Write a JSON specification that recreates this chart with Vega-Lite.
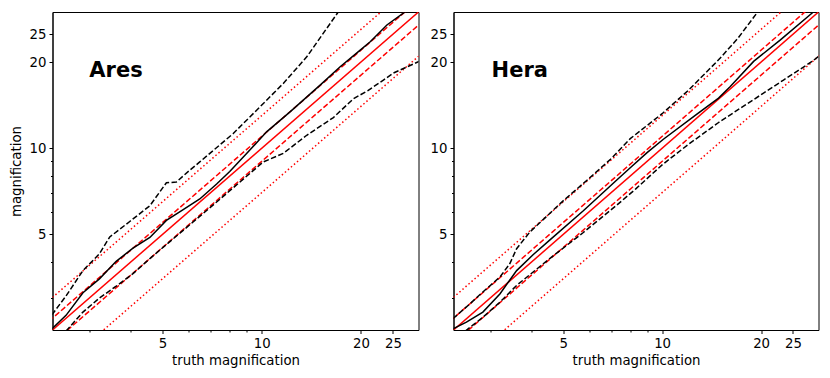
{
"$schema":"https://vega.github.io/schema/vega-lite/v6.json",
"background":"white",
"padding":{"left":8.5,"top":11,"right":5,"bottom":5},
"spacing":10,
"config":{
 "font":"DejaVu Sans",
 "view":{"stroke":"black","strokeWidth":1},
 "axis":{"grid":false,"domainColor":"black","domainWidth":1,"tickColor":"black","tickWidth":1,"tickSize":3.5,"labelColor":"black","labelFont":"DejaVu Sans","labelFontSize":13.3,"labelPadding":3,"titleColor":"black","titleFont":"DejaVu Sans","titleFontSize":13.3,"titleFontWeight":"normal","labelOverlap":false,"labelFlush":false}
},
"datasets":{
"d":[
{"p":"Ares","s":"one","x":2,"y":2},{"p":"Ares","s":"one","x":40,"y":40},
{"p":"Ares","s":"p10","x":2,"y":2.2},{"p":"Ares","s":"p10","x":40,"y":44},
{"p":"Ares","s":"m10","x":2,"y":1.8},{"p":"Ares","s":"m10","x":40,"y":36},
{"p":"Ares","s":"p30","x":2,"y":2.6},{"p":"Ares","s":"p30","x":40,"y":52},
{"p":"Ares","s":"m30","x":2,"y":1.4},{"p":"Ares","s":"m30","x":40,"y":28},
{"p":"Hera","s":"one","x":2,"y":2},{"p":"Hera","s":"one","x":40,"y":40},
{"p":"Hera","s":"p10","x":2,"y":2.2},{"p":"Hera","s":"p10","x":40,"y":44},
{"p":"Hera","s":"m10","x":2,"y":1.8},{"p":"Hera","s":"m10","x":40,"y":36},
{"p":"Hera","s":"p30","x":2,"y":2.6},{"p":"Hera","s":"p30","x":40,"y":52},
{"p":"Hera","s":"m30","x":2,"y":1.4},{"p":"Hera","s":"m30","x":40,"y":28},
{"p":"Ares","s":"med","x":2.31,"y":2.34},{"p":"Ares","s":"med","x":2.55,"y":2.61},{"p":"Ares","s":"med","x":2.87,"y":3.13},{"p":"Ares","s":"med","x":3.22,"y":3.50},{"p":"Ares","s":"med","x":3.62,"y":4.03},{"p":"Ares","s":"med","x":4.07,"y":4.48},{"p":"Ares","s":"med","x":4.58,"y":4.88},{"p":"Ares","s":"med","x":5.14,"y":5.60},{"p":"Ares","s":"med","x":5.78,"y":6.10},{"p":"Ares","s":"med","x":6.49,"y":6.65},{"p":"Ares","s":"med","x":7.30,"y":7.50},{"p":"Ares","s":"med","x":8.0,"y":8.30},{"p":"Ares","s":"med","x":9.0,"y":9.58},{"p":"Ares","s":"med","x":10.35,"y":11.41},{"p":"Ares","s":"med","x":12.19,"y":13.40},{"p":"Ares","s":"med","x":15.04,"y":16.61},{"p":"Ares","s":"med","x":17.30,"y":19.25},{"p":"Ares","s":"med","x":19.90,"y":22.02},{"p":"Ares","s":"med","x":21.34,"y":23.54},{"p":"Ares","s":"med","x":23.98,"y":26.93},{"p":"Ares","s":"med","x":27.27,"y":29.97},{"p":"Ares","s":"med","x":30.5,"y":33.5},
{"p":"Ares","s":"up","x":2.31,"y":2.62},{"p":"Ares","s":"up","x":2.55,"y":3.05},{"p":"Ares","s":"up","x":2.87,"y":3.74},{"p":"Ares","s":"up","x":3.22,"y":4.28},{"p":"Ares","s":"up","x":3.46,"y":4.90},{"p":"Ares","s":"up","x":3.98,"y":5.55},{"p":"Ares","s":"up","x":4.58,"y":6.30},{"p":"Ares","s":"up","x":5.14,"y":7.58},{"p":"Ares","s":"up","x":5.51,"y":7.62},{"p":"Ares","s":"up","x":6.05,"y":8.38},{"p":"Ares","s":"up","x":6.49,"y":8.96},{"p":"Ares","s":"up","x":8.20,"y":11.26},{"p":"Ares","s":"up","x":9.88,"y":13.94},{"p":"Ares","s":"up","x":11.63,"y":16.84},{"p":"Ares","s":"up","x":13.70,"y":20.85},{"p":"Ares","s":"up","x":17.09,"y":29.96},{"p":"Ares","s":"up","x":18.5,"y":34.0},
{"p":"Ares","s":"lo","x":2.55,"y":2.30},{"p":"Ares","s":"lo","x":2.87,"y":2.68},{"p":"Ares","s":"lo","x":3.22,"y":3.00},{"p":"Ares","s":"lo","x":3.62,"y":3.30},{"p":"Ares","s":"lo","x":4.07,"y":3.65},{"p":"Ares","s":"lo","x":4.58,"y":4.12},{"p":"Ares","s":"lo","x":5.78,"y":5.17},{"p":"Ares","s":"lo","x":7.30,"y":6.49},{"p":"Ares","s":"lo","x":8.29,"y":7.36},{"p":"Ares","s":"lo","x":10.1,"y":8.95},{"p":"Ares","s":"lo","x":11.63,"y":9.6},{"p":"Ares","s":"lo","x":13.7,"y":11.1},{"p":"Ares","s":"lo","x":16.5,"y":12.8},{"p":"Ares","s":"lo","x":19.0,"y":14.9},{"p":"Ares","s":"lo","x":21.0,"y":15.9},{"p":"Ares","s":"lo","x":23.4,"y":17.3},{"p":"Ares","s":"lo","x":25.1,"y":18.3},{"p":"Ares","s":"lo","x":27.5,"y":19.2},{"p":"Ares","s":"lo","x":30.0,"y":20.1},
{"p":"Hera","s":"med","x":2.31,"y":2.34},{"p":"Hera","s":"med","x":2.54,"y":2.47},{"p":"Hera","s":"med","x":2.85,"y":2.68},{"p":"Hera","s":"med","x":3.21,"y":3.10},{"p":"Hera","s":"med","x":3.61,"y":3.74},{"p":"Hera","s":"med","x":4.05,"y":4.25},{"p":"Hera","s":"med","x":4.55,"y":4.78},{"p":"Hera","s":"med","x":5.76,"y":6.05},{"p":"Hera","s":"med","x":7.28,"y":7.75},{"p":"Hera","s":"med","x":8.0,"y":8.55},{"p":"Hera","s":"med","x":9.0,"y":9.65},{"p":"Hera","s":"med","x":10.09,"y":10.75},{"p":"Hera","s":"med","x":12.76,"y":13.15},{"p":"Hera","s":"med","x":14.85,"y":14.96},{"p":"Hera","s":"med","x":16.12,"y":16.43},{"p":"Hera","s":"med","x":18.98,"y":20.1},{"p":"Hera","s":"med","x":22.9,"y":23.9},{"p":"Hera","s":"med","x":28.6,"y":29.65},{"p":"Hera","s":"med","x":30.5,"y":31.6},
{"p":"Hera","s":"up","x":2.31,"y":2.54},{"p":"Hera","s":"up","x":2.60,"y":2.86},{"p":"Hera","s":"up","x":2.85,"y":3.15},{"p":"Hera","s":"up","x":3.21,"y":3.55},{"p":"Hera","s":"up","x":3.44,"y":3.95},{"p":"Hera","s":"up","x":3.61,"y":4.46},{"p":"Hera","s":"up","x":3.96,"y":5.10},{"p":"Hera","s":"up","x":5.0,"y":6.55},{"p":"Hera","s":"up","x":6.0,"y":7.85},{"p":"Hera","s":"up","x":7.0,"y":9.2},{"p":"Hera","s":"up","x":8.0,"y":10.8},{"p":"Hera","s":"up","x":10.0,"y":13.2},{"p":"Hera","s":"up","x":12.0,"y":15.9},{"p":"Hera","s":"up","x":15.0,"y":20.6},{"p":"Hera","s":"up","x":17.0,"y":24.2},{"p":"Hera","s":"up","x":19.4,"y":29.6},{"p":"Hera","s":"up","x":21.0,"y":33.0},
{"p":"Hera","s":"lo","x":2.52,"y":2.30},{"p":"Hera","s":"lo","x":2.85,"y":2.57},{"p":"Hera","s":"lo","x":3.21,"y":2.90},{"p":"Hera","s":"lo","x":3.61,"y":3.32},{"p":"Hera","s":"lo","x":4.55,"y":4.12},{"p":"Hera","s":"lo","x":5.76,"y":5.08},{"p":"Hera","s":"lo","x":7.28,"y":6.33},{"p":"Hera","s":"lo","x":8.3,"y":7.2},{"p":"Hera","s":"lo","x":10.0,"y":8.75},{"p":"Hera","s":"lo","x":12.0,"y":10.3},{"p":"Hera","s":"lo","x":14.85,"y":12.3},{"p":"Hera","s":"lo","x":19.0,"y":14.8},{"p":"Hera","s":"lo","x":23.4,"y":17.3},{"p":"Hera","s":"lo","x":28.6,"y":20.1},{"p":"Hera","s":"lo","x":30.5,"y":21.3}
],
"lab":[{"p":"Ares","x":3.0,"y":17.8,"t":"Ares"},{"p":"Hera","x":3.03,"y":17.8,"t":"Hera"}]
},
"hconcat":[
{"width":366,"height":318,
 "encoding":{
  "x":{"field":"x","type":"quantitative","scale":{"type":"log","domain":[2.32,29.9],"nice":false},"axis":{"title":"truth magnification","values":[3,4,5,6,7,8,9,10,20,25],"labelExpr":"indexof([5,10,20,25], datum.value) >= 0 ? datum.label : ''","tickSize":{"condition":{"test":"indexof([5,10,20,25], datum.value) >= 0","value":3.5},"value":2},"titlePadding":4}},
  "y":{"field":"y","type":"quantitative","scale":{"type":"log","domain":[2.32,29.9],"nice":false},"axis":{"title":"magnification","values":[3,4,5,6,7,8,9,10,20,25],"labelExpr":"indexof([5,10,20,25], datum.value) >= 0 ? datum.label : ''","tickSize":{"condition":{"test":"indexof([5,10,20,25], datum.value) >= 0","value":3.5},"value":2},"titlePadding":6}}
 },
 "layer":[
  {"data":{"name":"d"},"transform":[{"filter":"datum.p=='Ares' && datum.s=='one'"}],"mark":{"type":"line","color":"red","strokeWidth":1.5,"clip":true}},
  {"data":{"name":"d"},"transform":[{"filter":"datum.p=='Ares' && (datum.s=='p10' || datum.s=='m10')"}],"mark":{"type":"line","color":"red","strokeWidth":1.5,"strokeDash":[5.5,2.4],"clip":true},"encoding":{"detail":{"field":"s"}}},
  {"data":{"name":"d"},"transform":[{"filter":"datum.p=='Ares' && (datum.s=='p30' || datum.s=='m30')"}],"mark":{"type":"line","color":"red","strokeWidth":1.5,"strokeDash":[1.5,2.5],"clip":true},"encoding":{"detail":{"field":"s"}}},
  {"data":{"name":"d"},"transform":[{"filter":"datum.p=='Ares' && datum.s=='med'"}],"mark":{"type":"line","color":"black","strokeWidth":1.5,"clip":true}},
  {"data":{"name":"d"},"transform":[{"filter":"datum.p=='Ares' && (datum.s=='up' || datum.s=='lo')"}],"mark":{"type":"line","color":"black","strokeWidth":1.5,"strokeDash":[5.5,2.4],"clip":true},"encoding":{"detail":{"field":"s"}}},
  {"data":{"name":"lab"},"transform":[{"filter":"datum.p=='Ares'"}],"mark":{"type":"text","font":"DejaVu Sans","fontSize":21,"fontWeight":"bold","align":"left","baseline":"alphabetic","color":"black"},"encoding":{"text":{"field":"t"}}}
 ]
},
{"width":365,"height":318,
 "encoding":{
  "x":{"field":"x","type":"quantitative","scale":{"type":"log","domain":[2.32,29.9],"nice":false},"axis":{"title":"truth magnification","values":[3,4,5,6,7,8,9,10,20,25],"labelExpr":"indexof([5,10,20,25], datum.value) >= 0 ? datum.label : ''","tickSize":{"condition":{"test":"indexof([5,10,20,25], datum.value) >= 0","value":3.5},"value":2},"titlePadding":4}},
  "y":{"field":"y","type":"quantitative","scale":{"type":"log","domain":[2.32,29.9],"nice":false},"axis":{"title":null,"values":[3,4,5,6,7,8,9,10,20,25],"labelExpr":"indexof([5,10,20,25], datum.value) >= 0 ? datum.label : ''","tickSize":{"condition":{"test":"indexof([5,10,20,25], datum.value) >= 0","value":3.5},"value":2}}}
 },
 "layer":[
  {"data":{"name":"d"},"transform":[{"filter":"datum.p=='Hera' && datum.s=='one'"}],"mark":{"type":"line","color":"red","strokeWidth":1.5,"clip":true}},
  {"data":{"name":"d"},"transform":[{"filter":"datum.p=='Hera' && (datum.s=='p10' || datum.s=='m10')"}],"mark":{"type":"line","color":"red","strokeWidth":1.5,"strokeDash":[5.5,2.4],"clip":true},"encoding":{"detail":{"field":"s"}}},
  {"data":{"name":"d"},"transform":[{"filter":"datum.p=='Hera' && (datum.s=='p30' || datum.s=='m30')"}],"mark":{"type":"line","color":"red","strokeWidth":1.5,"strokeDash":[1.5,2.5],"clip":true},"encoding":{"detail":{"field":"s"}}},
  {"data":{"name":"d"},"transform":[{"filter":"datum.p=='Hera' && datum.s=='med'"}],"mark":{"type":"line","color":"black","strokeWidth":1.5,"clip":true}},
  {"data":{"name":"d"},"transform":[{"filter":"datum.p=='Hera' && (datum.s=='up' || datum.s=='lo')"}],"mark":{"type":"line","color":"black","strokeWidth":1.5,"strokeDash":[5.5,2.4],"clip":true},"encoding":{"detail":{"field":"s"}}},
  {"data":{"name":"lab"},"transform":[{"filter":"datum.p=='Hera'"}],"mark":{"type":"text","font":"DejaVu Sans","fontSize":21,"fontWeight":"bold","align":"left","baseline":"alphabetic","color":"black"},"encoding":{"text":{"field":"t"}}}
 ]
}
]
}
